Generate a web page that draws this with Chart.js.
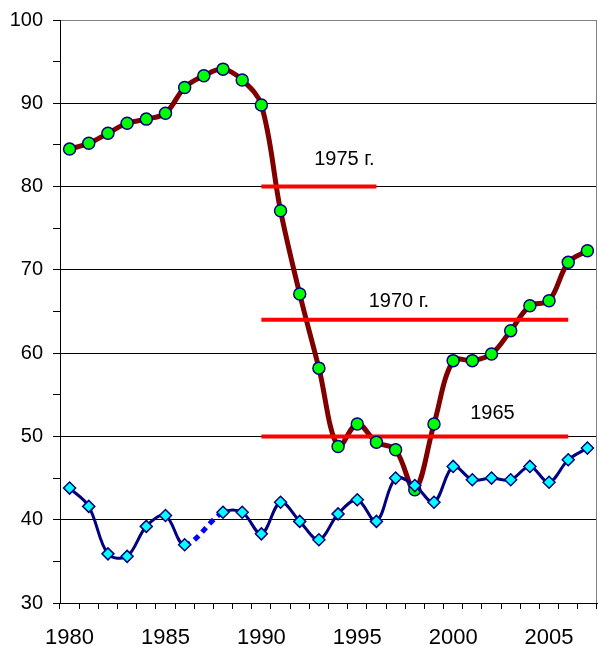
<!DOCTYPE html>
<html>
<head>
<meta charset="utf-8">
<script src="https://cdn.jsdelivr.net/npm/chart.js@4.4.1/dist/chart.umd.min.js"></script>
<style>
  html, body { margin: 0; padding: 0; background: #fff; overflow: hidden; }
  canvas { display: block; }
</style>
</head>
<body>
<canvas id="chart" width="598" height="646"></canvas>
<script>
// years on the category axis
const YEARS = [];
for (let y = 1980; y <= 2007; y++) YEARS.push(y);

// upper series (brown line, green markers)
const UPPER = [84.5, 85.2, 86.4, 87.6, 88.1, 88.8, 91.9, 93.3, 94.1, 92.8,
               89.8, 77.1, 67.1, 58.2, 48.8, 51.5, 49.3, 48.4, 43.6, 51.5,
               59.1, 59.1, 59.9, 62.7, 65.7, 66.3, 70.9, 72.3];

// lower series (navy line, cyan diamonds); 1987 missing
const LOWER = [43.8, 41.6, 35.9, 35.6, 39.2, 40.5, 37.0, null, 40.9, 40.9,
               38.3, 42.1, 39.8, 37.6, 40.7, 42.4, 39.8, 45.0, 44.1, 42.1,
               46.4, 44.8, 45.0, 44.8, 46.4, 44.5, 47.2, 48.6];

// red reference levels
const REF_LEVELS = [80, 64, 50];
const REF_FROM   = [1990, 1990, 1990];
const REF_TO     = [1996, 2006, 2006];

// text notes, anchored in data units
const NOTE_TEXT = ['1975 г.', '1970 г.', '1965'];
const NOTE_YEAR = [1994.33, 1997.17, 2002.05];
const NOTE_VAL  = [82.6, 65.6, 52.1];

const Y_MIN = 30, Y_MAX = 100, Y_STEP = 5;

const FONT = '"Liberation Sans", Arial, sans-serif';

const refSets = REF_LEVELS.map((lvl, k) => ({
  data: YEARS.map(y => (y >= REF_FROM[k] && y <= REF_TO[k]) ? lvl : null),
  borderColor: '#FF0000',
  borderWidth: 4,
  pointRadius: 0,
  tension: 0,
  spanGaps: false,
  order: 3,
}));

// gray frame on the right side of the plot, like the top edge
const framePlugin = {
  id: 'frame',
  beforeDatasetsDraw(chart) {
    const { ctx, chartArea: a } = chart;
    ctx.save();
    ctx.strokeStyle = '#808080';
    ctx.lineWidth = 1;
    ctx.beginPath();
    ctx.moveTo(a.right - 0.5, a.top);
    ctx.lineTo(a.right - 0.5, a.bottom);
    ctx.stroke();
    ctx.restore();
  }
};

const notesPlugin = {
  id: 'notes',
  afterDatasetsDraw(chart) {
    const { ctx, scales: { x, y } } = chart;
    ctx.save();
    ctx.font = '20px ' + FONT;
    ctx.fillStyle = '#000';
    ctx.textAlign = 'center';
    ctx.textBaseline = 'alphabetic';
    NOTE_TEXT.forEach((t, i) => {
      ctx.fillText(t, x.getPixelForValue(NOTE_YEAR[i] - YEARS[0]), y.getPixelForValue(NOTE_VAL[i]));
    });
    ctx.restore();
  }
};

new Chart(document.getElementById('chart'), {
  type: 'line',
  data: {
    labels: YEARS,
    datasets: [
      {
        data: LOWER,
        borderColor: '#000080',
        borderWidth: 3,
        tension: 0.35,
        spanGaps: true,
        pointStyle: 'rectRot',
        pointRadius: 6,
        pointBackgroundColor: '#00FFFF',
        pointBorderColor: '#000080',
        pointBorderWidth: 1.5,
        segment: {
          borderColor: c => (c.p0.skip || c.p1.skip) ? '#0000FF' : undefined,
          borderDash: c => (c.p0.skip || c.p1.skip) ? [6, 5] : undefined,
          borderWidth: c => (c.p0.skip || c.p1.skip) ? 5 : undefined,
        },
        order: 1,
      },
      {
        data: UPPER,
        showLine: false,
        pointRadius: 6,
        pointBackgroundColor: '#00FF00',
        pointBorderColor: '#000080',
        pointBorderWidth: 1.5,
        order: 2,
      },
      ...refSets,
      {
        data: UPPER,
        borderColor: '#800000',
        borderWidth: 5,
        tension: 0.35,
        pointRadius: 0,
        order: 4,
      },
    ],
  },
  options: {
    responsive: false,
    animation: false,
    layout: { autoPadding: false, padding: { top: 20, right: 1, left: 0, bottom: 0 } },
    plugins: { legend: { display: false }, tooltip: { enabled: false } },
    scales: {
      x: {
        type: 'category',
        offset: true,
        afterFit: s => { s.height = 43; s.paddingLeft = 0; s.paddingRight = 0; },
        grid: {
          offset: true,
          drawOnChartArea: false,
          color: '#000',
          tickColor: '#000',
          tickLength: 6,
        },
        border: { color: '#000', width: 1 },
        ticks: {
          autoSkip: false,
          maxRotation: 0,
          padding: 16,
          color: '#000',
          font: { family: FONT, size: 22 },
          callback: (v, i) => YEARS[i] % 5 === 0 ? String(YEARS[i]) : '',
        },
      },
      y: {
        min: Y_MIN,
        max: Y_MAX,
        afterFit: s => { s.width = 60; s.paddingTop = 0; s.paddingBottom = 0; },
        grid: {
          color: c => c.tick.value === Y_MAX ? '#808080' : (c.tick.value % 10 === 0 ? '#000' : 'rgba(0,0,0,0)'),
          tickColor: '#000',
          tickLength: 7,
        },
        border: { color: '#000', width: 1 },
        ticks: {
          stepSize: Y_STEP,
          padding: 10,
          color: '#000',
          font: { family: FONT, size: 20 },
          callback: v => v % 10 === 0 ? String(v) : '',
        },
      },
    },
  },
  plugins: [framePlugin, notesPlugin],
});
</script>
</body>
</html>
